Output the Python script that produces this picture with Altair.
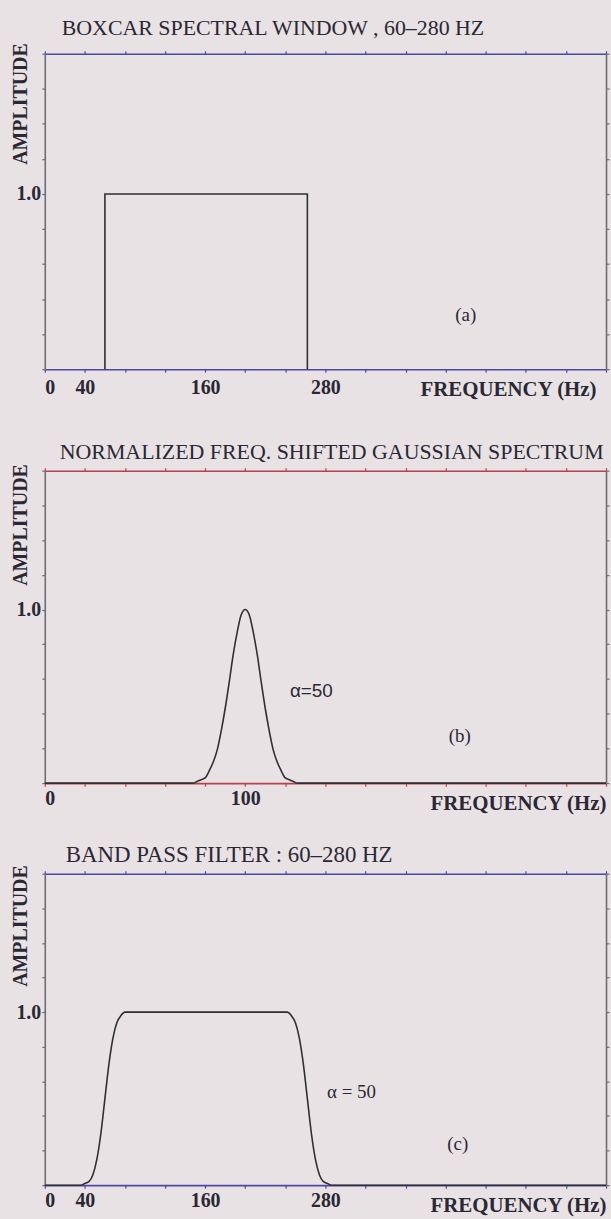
import altair as alt
import pandas as pd

# ---- data -------------------------------------------------------------
# (a) boxcar spectral window outline
box_freq = [60, 60, 262, 262]
box_amp = [0.0, 1.0, 1.0, 0.0]

# (b) normalized, frequency-shifted Gaussian spectrum (peak at 100 Hz)
gauss_freq = [0, 74, 76, 78, 80, 82, 84, 86, 88, 90, 92, 94, 96, 98, 100,
              102, 104, 106, 108, 110, 112, 114, 116, 118, 120, 122, 124, 126, 280]
gauss_amp = [0, 0, 0.01, 0.02, 0.03, 0.07, 0.12, 0.19, 0.30, 0.43, 0.58, 0.74, 0.87, 0.97, 1.0,
             0.97, 0.87, 0.74, 0.58, 0.43, 0.30, 0.19, 0.12, 0.07, 0.03, 0.02, 0.01, 0, 0]

# (c) band pass filter response
band_freq = [0, 36, 40, 44, 48, 52, 56, 60, 64, 68, 72, 76, 80,
             242, 246, 250, 254, 258, 262, 266, 270, 274, 278, 282, 286, 560]
band_amp = [0, 0, 0.01, 0.02, 0.06, 0.15, 0.30, 0.50, 0.70, 0.85, 0.94, 0.98, 1.0,
            1.0, 0.98, 0.94, 0.85, 0.70, 0.50, 0.30, 0.15, 0.06, 0.02, 0.01, 0, 0]

# axis ticks and the ones that carry a label
wide_ticks = [0, 40, 80, 120, 160, 200, 240, 280, 320, 360, 400, 440, 480, 520, 560]
wide_labels = [0, 40, 160, 280]
narrow_ticks = [0, 20, 40, 60, 80, 100, 120, 140, 160, 180, 200, 220, 240, 260, 280]
narrow_labels = [0, 100]
amp_ticks = [0, 0.2, 0.4, 0.6, 0.8, 1.0, 1.2, 1.4, 1.6, 1.8]

# in-plot annotations
a_serif_text, a_serif_freq, a_serif_amp = ["(a)"], [420], [0.31]
b_serif_text, b_serif_freq, b_serif_amp = ["(b)"], [207], [0.27]
b_sans_text, b_sans_freq, b_sans_amp = ["\u03b1=50"], [133], [0.53]
c_serif_text, c_serif_freq, c_serif_amp = ["\u03b1 = 50", "(c)"], [306, 412], [0.54, 0.24]

# ---- styling ----------------------------------------------------------
INK = "#2b2833"
CURVE = "#2f2f33"
VERT = "#6e6c72"
SERIF = "Liberation Serif"
SANS = "Liberation Sans"
PLOT_W = 564


def frame_axes(xmax, xticks, xlabels, hcolor, label_pad, freq_title_x, amp_title_y):
    xs = alt.Scale(domain=[0, xmax], nice=False, zero=False)
    ys = alt.Scale(domain=[0, 1.8], nice=False)
    label_expr = "indexof(" + str(xlabels) + ", datum.value) >= 0 ? datum.label : ''"
    x_bottom = alt.X(
        "freq:Q", scale=xs,
        axis=alt.Axis(orient="bottom", values=xticks, labelExpr=label_expr,
                      labelOverlap=False, labelBaseline="alphabetic", labelPadding=label_pad,
                      labelFont=SERIF, labelFontWeight="bold", labelFontSize=20, labelColor=INK,
                      domainColor=hcolor, tickColor=hcolor, grid=False,
                      title="FREQUENCY (Hz)", titleX=freq_title_x, titleY=26,
                      titleAlign="right", titleBaseline="alphabetic",
                      titleFont=SERIF, titleFontWeight="bold", titleFontSize=21, titleColor=INK))
    y_left = alt.Y(
        "amp:Q", scale=ys,
        axis=alt.Axis(orient="left", values=amp_ticks,
                      labelExpr="abs(datum.value - 1) < 0.001 ? '1.0' : ''",
                      labelOverlap=False, labelPadding=1, labelBaseline="middle",
                      labelFont=SERIF, labelFontWeight="bold", labelFontSize=20, labelColor=INK,
                      domainColor=VERT, tickColor=VERT, grid=False,
                      title="AMPLITUDE", titleAngle=270, titleAlign="right",
                      titleBaseline="middle", titleX=-24, titleY=amp_title_y,
                      titleFont=SERIF, titleFontWeight="bold", titleFontSize=20, titleColor=INK))
    x_top = alt.X(
        "freq:Q", scale=xs,
        axis=alt.Axis(orient="top", values=xticks, labels=False, title=None, grid=False,
                      domainColor=hcolor, tickColor=hcolor))
    y_right = alt.Y(
        "amp:Q", scale=ys,
        axis=alt.Axis(orient="right", values=amp_ticks, labels=False, title=None, grid=False,
                      domainColor=VERT, tickColor=VERT))
    return x_bottom, y_left, x_top, y_right


def text_layer(texts, freqs, amps, font, size, x_enc, y_enc):
    df = pd.DataFrame({"label": texts, "freq": freqs, "amp": amps})
    return alt.Chart(df).mark_text(font=font, fontSize=size, color=INK,
                                   align="center", baseline="middle").encode(
        x=x_enc, y=y_enc, text="label:N")


def panel(curve_f, curve_a, xmax, xticks, xlabels, hcolor, height, title, title_size,
          title_dx, title_offset, label_pad, freq_title_x, amp_title_y,
          serif_notes, sans_notes=None):
    x_b, y_l, x_t, y_r = frame_axes(xmax, xticks, xlabels, hcolor, label_pad,
                                    freq_title_x, amp_title_y)
    curve_df = pd.DataFrame({"freq": curve_f, "amp": curve_a,
                             "seq": list(range(len(curve_f)))})
    curve = alt.Chart(curve_df).mark_line(color=CURVE, strokeWidth=1.6,
                                          interpolate="monotone").encode(
        x=x_b, y=y_l, order="seq:Q")
    layers = [curve, text_layer(*serif_notes, SERIF, 19, x_t, y_r)]
    if sans_notes is not None:
        layers.append(text_layer(*sans_notes, SANS, 19,
                                 alt.X("freq:Q", axis=None), alt.Y("amp:Q", axis=None)))
    return alt.layer(*layers).resolve_axis(x="independent", y="independent").properties(
        width=PLOT_W, height=height,
        title=alt.TitleParams(text=title, anchor="start", frame="group", dx=title_dx,
                              offset=title_offset, baseline="alphabetic", font=SERIF,
                              fontSize=title_size, fontWeight="normal", color=INK))


panel_a = panel(box_freq, box_amp, 560, wide_ticks, wide_labels, "#4d47a6", 317,
                "BOXCAR SPECTRAL WINDOW , 60\u2013280 HZ", 22, 17, -14, 21, PLOT_W - 10, -11,
                (a_serif_text, a_serif_freq, a_serif_amp))
panel_b = panel(gauss_freq, gauss_amp, 280, narrow_ticks, narrow_labels, "#b8414f", 314,
                "NORMALIZED FREQ. SHIFTED GAUSSIAN SPECTRUM", 22, 15, -20, 18, PLOT_W, -7,
                (b_serif_text, b_serif_freq, b_serif_amp),
                (b_sans_text, b_sans_freq, b_sans_amp))
panel_c = panel(band_freq, band_amp, 560, wide_ticks, wide_labels, "#4d47a6", 313,
                "BAND PASS FILTER : 60\u2013280 HZ", 23, 21, -21, 18, PLOT_W, -9,
                (c_serif_text, c_serif_freq, c_serif_amp))

chart = alt.vconcat(
    panel_a,
    alt.vconcat(panel_b, panel_c, spacing=91, bounds="flush"),
    spacing=102, bounds="flush",
).properties(
    padding={"left": 10, "top": 13, "right": 0, "bottom": 0},
).configure(
    background="#e8e2e5",
).configure_view(
    stroke="transparent",
).configure_axis(
    tickSize=3, tickWidth=1.2, domainWidth=1.6,
)

chart.save("out.html", embed_options={"renderer": "svg", "actions": False})
